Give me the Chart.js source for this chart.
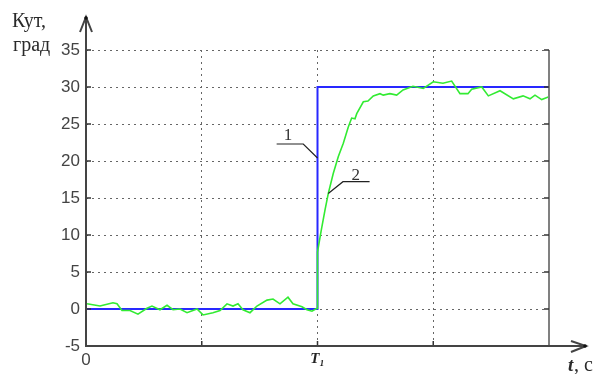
<!DOCTYPE html>
<html><head><meta charset="utf-8">
<script src="https://cdn.jsdelivr.net/npm/chart.js@4.4.1/dist/chart.umd.min.js"></script>
<style>html,body{margin:0;padding:0;background:#fff;}canvas{display:block;}</style>
</head><body>
<canvas id="c" width="603" height="374"></canvas>
<script>
// ---- data ----
const yTicks = [-5, 0, 5, 10, 15, 20, 25, 30, 35];
const xTickLabels = {0: '0', 2: 'T\u2081'};
const stepX = [0, 2, 2, 4];
const stepY = [0, 0, 30, 30];
const respX = [0.009,0.121,0.233,0.268,0.311,0.38,0.449,0.527,0.57,0.639,0.70,0.752,0.812,0.873,0.959,1.011,1.097,1.158,1.218,1.27,1.313,1.356,1.417,1.477,1.564,1.616,1.676,1.745,1.788,1.866,1.909,1.952,1.996,2.0,
  2.0,2.033,2.065,2.093,2.136,2.18,2.223,2.266,2.295,2.324,2.339,2.396,2.436,2.482,2.54,2.568,2.626,2.684,2.739,2.825,2.914,3.0,3.084,3.159,3.231,3.3,3.332,3.419,3.476,3.577,3.692,3.776,3.836,3.879,3.937,4.0];
const respY = [0.7,0.4,0.85,0.7,-0.2,-0.2,-0.7,0.1,0.4,-0.1,0.5,-0.1,0.0,-0.5,0.0,-0.8,-0.5,-0.2,0.7,0.4,0.7,-0.1,-0.5,0.4,1.2,1.35,0.7,1.6,0.7,0.3,-0.1,-0.3,0.1,0.1,
  7.7,10.7,13.4,15.6,18.3,20.6,22.4,24.6,25.8,25.7,26.4,28.0,28.1,28.8,29.1,28.9,29.1,28.9,29.6,30.1,29.8,30.7,30.5,30.8,29.1,29.1,29.7,30.0,28.8,29.5,28.4,28.8,28.4,28.9,28.3,28.7];
// callouts: [label, labelX, labelY, shelfX1, shelfX2, shelfY, pointX, pointY]
const callout1 = ['1', 1.745, 23.4, 1.647, 1.877, 22.3, 2.0, 20.4];
const callout2 = ['2', 2.33, 18.1, 2.22, 2.45, 17.2, 2.093, 15.6];

const pts = (xs, ys) => xs.map((x, i) => ({x: x, y: ys[i]}));
const tickFont = {family: '"Liberation Sans Narrow", "Liberation Sans", Arial, sans-serif', size: 17};

const deco = {
  id: 'deco',
  afterDraw(chart) {
    const ctx = chart.ctx, a = chart.chartArea;
    const xs = chart.scales.x, ys = chart.scales.y;
    ctx.save();
    // right border
    ctx.strokeStyle = '#808080'; ctx.lineWidth = 2;
    ctx.beginPath(); ctx.moveTo(a.right, a.top); ctx.lineTo(a.right, a.bottom); ctx.stroke();
    // inner tick marks
    ctx.strokeStyle = '#333'; ctx.lineWidth = 1.5;
    yTicks.forEach(v => {
      const y = ys.getPixelForValue(v);
      ctx.beginPath(); ctx.moveTo(a.left, y); ctx.lineTo(a.left + 5, y); ctx.stroke();
      ctx.beginPath(); ctx.moveTo(a.right, y); ctx.lineTo(a.right - 5, y); ctx.stroke();
    });
    [1, 2, 3].forEach(v => {
      const x = xs.getPixelForValue(v);
      ctx.beginPath(); ctx.moveTo(x, a.bottom); ctx.lineTo(x, a.bottom - 5); ctx.stroke();
    });
    // axes with arrows
    ctx.strokeStyle = '#444'; ctx.lineWidth = 2;
    ctx.beginPath(); ctx.moveTo(a.left, a.bottom + 1); ctx.lineTo(a.left, 17); ctx.stroke();
    ctx.beginPath(); ctx.moveTo(a.left - 6, 32); ctx.lineTo(a.left, 17); ctx.lineTo(a.left + 6, 32); ctx.stroke();
    ctx.beginPath(); ctx.moveTo(a.left - 1, a.bottom); ctx.lineTo(586, a.bottom); ctx.stroke();
    ctx.beginPath(); ctx.moveTo(571, a.bottom - 5); ctx.lineTo(586, a.bottom); ctx.lineTo(571, a.bottom + 6); ctx.stroke();
    ctx.fillStyle = '#111';
    ctx.beginPath(); ctx.arc(a.left, 18, 1.8, 0, Math.PI * 2); ctx.fill();
    ctx.beginPath(); ctx.arc(585, a.bottom, 1.8, 0, Math.PI * 2); ctx.fill();
    // axis titles
    ctx.fillStyle = '#2a2a2a';
    ctx.textBaseline = 'alphabetic'; ctx.textAlign = 'left';
    ctx.font = '20px "Liberation Serif", serif';
    ctx.fillText('Кут,', 12, 27);
    ctx.fillText('град', 13, 51);
    ctx.font = 'italic bold 19px "Liberation Serif", serif';
    ctx.fillText('t', 568, 371);
    ctx.font = '20px "Liberation Serif", serif';
    ctx.fillText(', c', 574, 371);
    // callouts
    [callout1, callout2].forEach(c => {
      const sx1 = xs.getPixelForValue(c[3]), sx2 = xs.getPixelForValue(c[4]), sy = ys.getPixelForValue(c[5]);
      const px = xs.getPixelForValue(c[6]), py = ys.getPixelForValue(c[7]);
      ctx.strokeStyle = '#222'; ctx.lineWidth = 1.2;
      ctx.beginPath();
      if (c[6] > c[4]) { ctx.moveTo(sx1, sy); ctx.lineTo(sx2, sy); ctx.lineTo(px, py); }
      else { ctx.moveTo(sx2, sy); ctx.lineTo(sx1, sy); ctx.lineTo(px, py); }
      ctx.stroke();
      ctx.fillStyle = '#333'; ctx.textAlign = 'center'; ctx.textBaseline = 'middle';
      ctx.font = '17px "Liberation Serif", serif';
      ctx.fillText(c[0], xs.getPixelForValue(c[1]), ys.getPixelForValue(c[2]));
    });
    ctx.restore();
  }
};

new Chart(document.getElementById('c'), {
  type: 'line',
  data: {
    datasets: [
      {data: pts(respX, respY), borderColor: 'rgb(50,235,50)', borderWidth: 1.6, pointRadius: 0, tension: 0, fill: false, order: 0},
      {data: pts(stepX, stepY), borderColor: 'rgb(40,40,255)', borderWidth: 2, pointRadius: 0, tension: 0, fill: false, order: 1}
    ]
  },
  options: {
    responsive: false, animation: false,
    layout: {padding: {left: 0, top: 50, right: 54, bottom: 0}},
    plugins: {legend: {display: false}, tooltip: {enabled: false}},
    scales: {
      x: {
        type: 'linear', min: 0, max: 4,
        afterFit: s => { s.height = 28; },
        ticks: {
          stepSize: 1, autoSkip: false, maxRotation: 0, padding: 4,
          color: ctx => ctx.tick && ctx.tick.value === 2 ? '#222' : '#444',
          font: ctx => (ctx.tick && ctx.tick.value === 2) ? {family: '"Liberation Serif", serif', size: 15, style: 'italic', weight: 'bold'} : tickFont,
          callback: v => (xTickLabels[v] !== undefined ? xTickLabels[v] : '')
        },
        grid: {drawTicks: false, lineWidth: 1, borderDash: [2, 4],
          color: ctx => (ctx.tick && ctx.tick.value > 0 && ctx.tick.value < 4) ? '#666' : 'rgba(0,0,0,0)'},
        border: {display: false, dash: [2, 4]}
      },
      y: {
        min: -5, max: 35,
        afterFit: s => { s.width = 86; },
        ticks: {stepSize: 5, padding: 6, color: '#444', font: tickFont},
        grid: {drawTicks: false, lineWidth: 1, borderDash: [2, 4],
          color: ctx => (ctx.tick && ctx.tick.value > -5) ? '#666' : 'rgba(0,0,0,0)'},
        border: {display: false, dash: [2, 4]}
      }
    }
  },
  plugins: [deco]
});
</script>
</body></html>
